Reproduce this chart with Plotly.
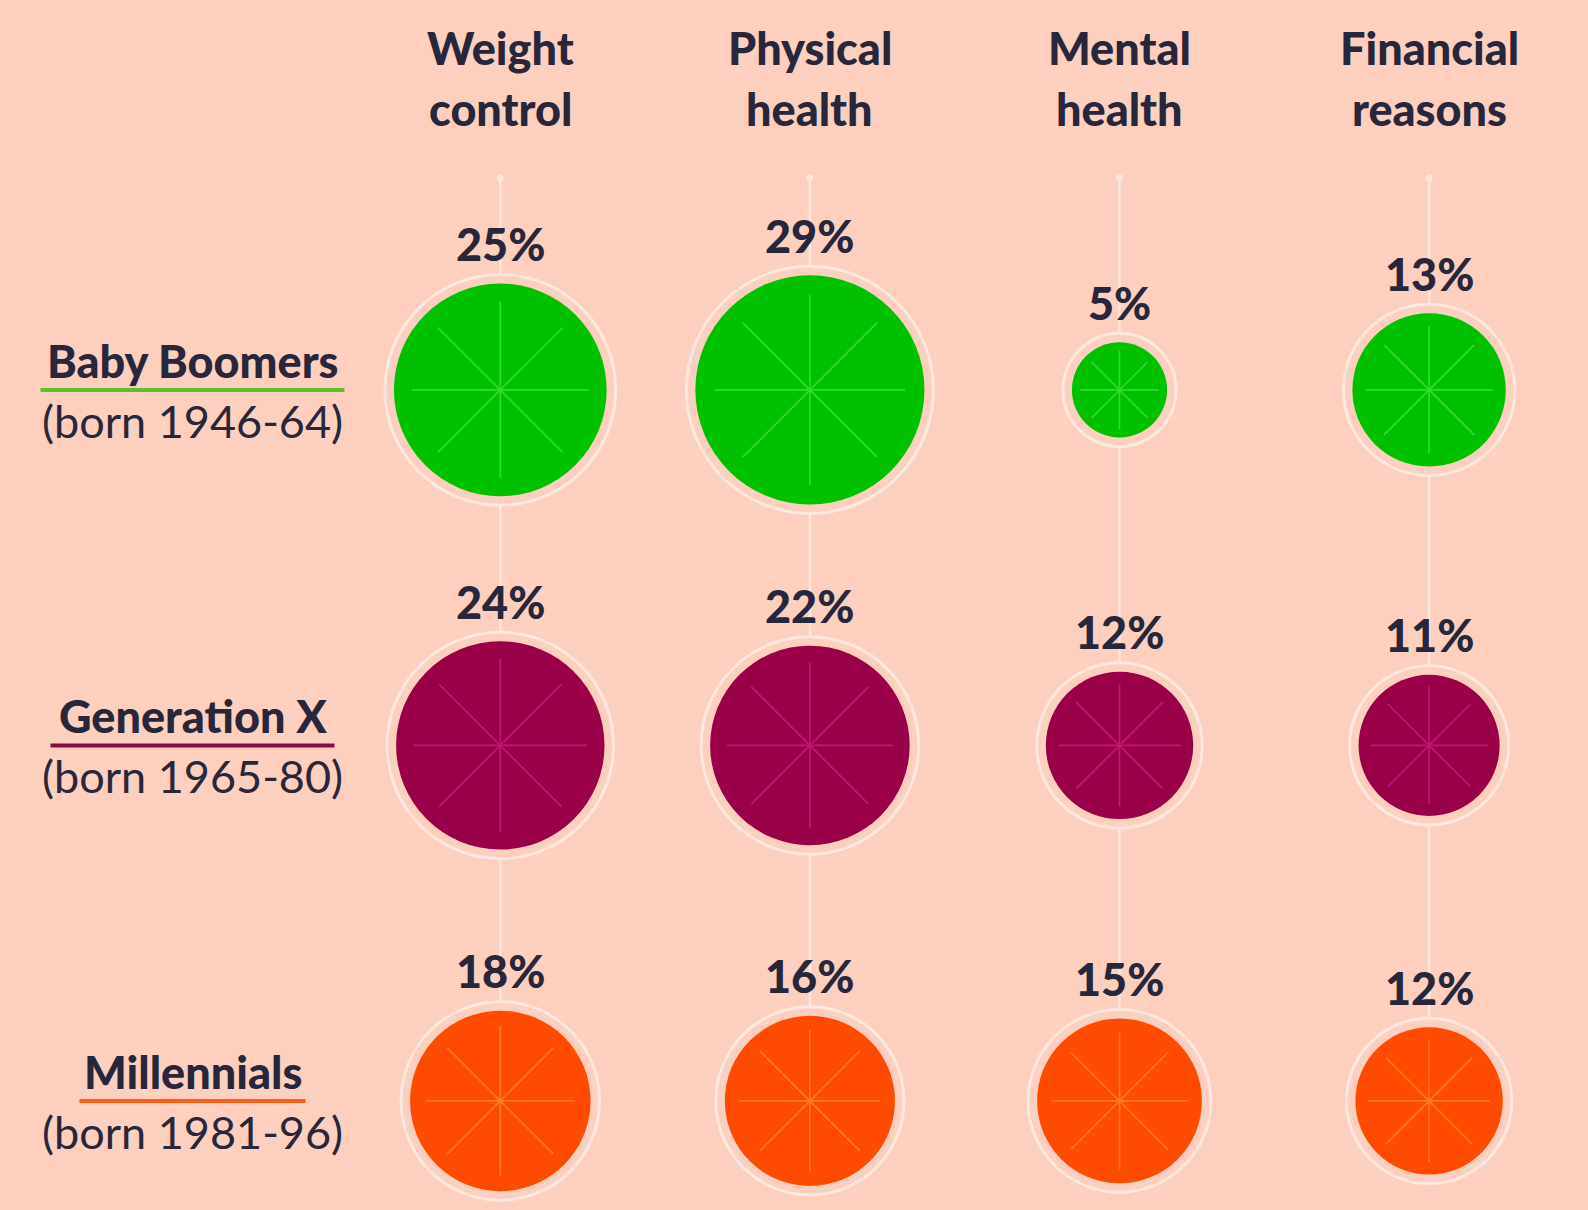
import numpy as np
import plotly.graph_objects as go

# ---------------- data ----------------
reasons = ["Weight control", "Physical health", "Mental health", "Financial reasons"]
generations = ["Baby Boomers", "Generation X", "Millennials"]
born = ["(born 1946-64)", "(born 1965-80)", "(born 1981-96)"]
boomers = [25, 29, 5, 13]
gen_x = [24, 22, 12, 11]
millennials = [18, 16, 15, 12]
values = [boomers, gen_x, millennials]

# ---------------- style / layout ----------------
BG = "#FCCFBE"
TEXT = "#27263A"
FILL = ["#00C100", "#9A0048", "#FF4B00"]
SPOKE = ["#33DA33", "#C41878", "#FF7D1E"]
ULINE = ["#5EBE2E", "#8C0A4A", "#FF5A12"]
ULINE_HALF = [152, 142, 113]
RING = "#FDE7DE"
VLINE = "#FDE6DC"
FONT = "Lato"
FS = 45

W, H = 1588, 1210
X0, DX = 500.3, 309.6      # px of first column, px between columns
Y0, DY = 389.9, 355.5      # px of first row, px between rows
K = 21.27                  # px radius per sqrt(percent)
RING_GAP = 9
LABEL_X = 192.5
TOP_Y = 178
HEAD_Y = [47.6, 109.4]


def px_x(px):
    return (px - X0) / DX


def px_y(py):
    return (py - Y0) / DY


fig = go.Figure()

ncol, nrow = len(reasons), len(generations)

# vertical connector lines
for i in range(ncol):
    fig.add_trace(go.Scatter(x=[i, i], y=[px_y(TOP_Y), nrow - 1], mode="lines",
                             line=dict(color=VLINE, width=2.5), hoverinfo="skip",
                             showlegend=False))
fig.add_trace(go.Scatter(x=list(range(ncol)), y=[px_y(TOP_Y)] * ncol, mode="markers",
                         marker=dict(color=VLINE, size=7, opacity=1), hoverinfo="skip",
                         showlegend=False))

annotations = []
shapes = []
for j, row in enumerate(values):
    xs = list(range(ncol))
    ys = [j] * ncol
    diam = [2 * K * np.sqrt(v) for v in row]
    # ring
    fig.add_trace(go.Scatter(x=xs, y=ys, mode="markers",
                             marker=dict(size=[d + 2 * RING_GAP for d in diam], color=BG,
                                         opacity=1, line=dict(color=RING, width=3)),
                             hoverinfo="skip", showlegend=False))
    # fill
    fig.add_trace(go.Scatter(x=xs, y=ys, mode="markers",
                             marker=dict(size=diam, color=FILL[j], opacity=1, line=dict(width=0)),
                             text=[f"{generations[j]} – {reasons[i]}: {v}%" for i, v in enumerate(row)],
                             hoverinfo="text", showlegend=False))
    # spokes
    sx, sy = [], []
    for i, v in enumerate(row):
        L = 0.83 * K * np.sqrt(v)
        for ang in (0, 45, 90, 135):
            a = np.deg2rad(ang)
            dx, dy = L * np.cos(a) / DX, L * np.sin(a) / DY
            sx += [i - dx, i + dx, None]
            sy += [j - dy, j + dy, None]
    fig.add_trace(go.Scatter(x=sx, y=sy, mode="lines",
                             line=dict(color=SPOKE[j], width=1.6),
                             hoverinfo="skip", showlegend=False))
    # percent labels
    for i, v in enumerate(row):
        r = K * np.sqrt(v)
        annotations.append(dict(x=i, y=j, xref="x", yref="y", text=f"{v}%",
                                showarrow=False, yshift=r + 39.5, yanchor="middle",
                                font=dict(family=FONT, size=FS, color=TEXT, weight=900)))
    # row labels
    annotations.append(dict(x=px_x(LABEL_X), y=j, xref="x", yref="y", text=generations[j],
                            showarrow=False, yshift=29, yanchor="middle",
                            font=dict(family=FONT, size=FS, color=TEXT, weight=900)))
    annotations.append(dict(x=px_x(LABEL_X), y=j, xref="x", yref="y", text=born[j],
                            showarrow=False, yshift=-31, yanchor="middle",
                            font=dict(family=FONT, size=FS, color=TEXT)))
    shapes.append(dict(type="line", xref="x", yref="y",
                       x0=px_x(LABEL_X - ULINE_HALF[j]), x1=px_x(LABEL_X + ULINE_HALF[j]),
                       y0=j, y1=j, line=dict(color=ULINE[j], width=4)))

# column headers
for i, name in enumerate(reasons):
    first, rest = name.split(" ", 1)
    for k, line in enumerate((first, rest)):
        annotations.append(dict(x=i, y=px_y(HEAD_Y[k]), xref="x", yref="y", text=line,
                                showarrow=False, yanchor="middle",
                                font=dict(family=FONT, size=FS, color=TEXT, weight=900)))

fig.update_layout(
    width=W, height=H, autosize=False,
    margin=dict(l=0, r=0, t=0, b=0),
    paper_bgcolor=BG, plot_bgcolor=BG,
    xaxis=dict(range=[px_x(0), px_x(W)], visible=False, fixedrange=True),
    yaxis=dict(range=[px_y(H), px_y(0)], visible=False, fixedrange=True),
    annotations=annotations, shapes=shapes,
    hovermode="closest",
)

fig.write_html("out.html")
